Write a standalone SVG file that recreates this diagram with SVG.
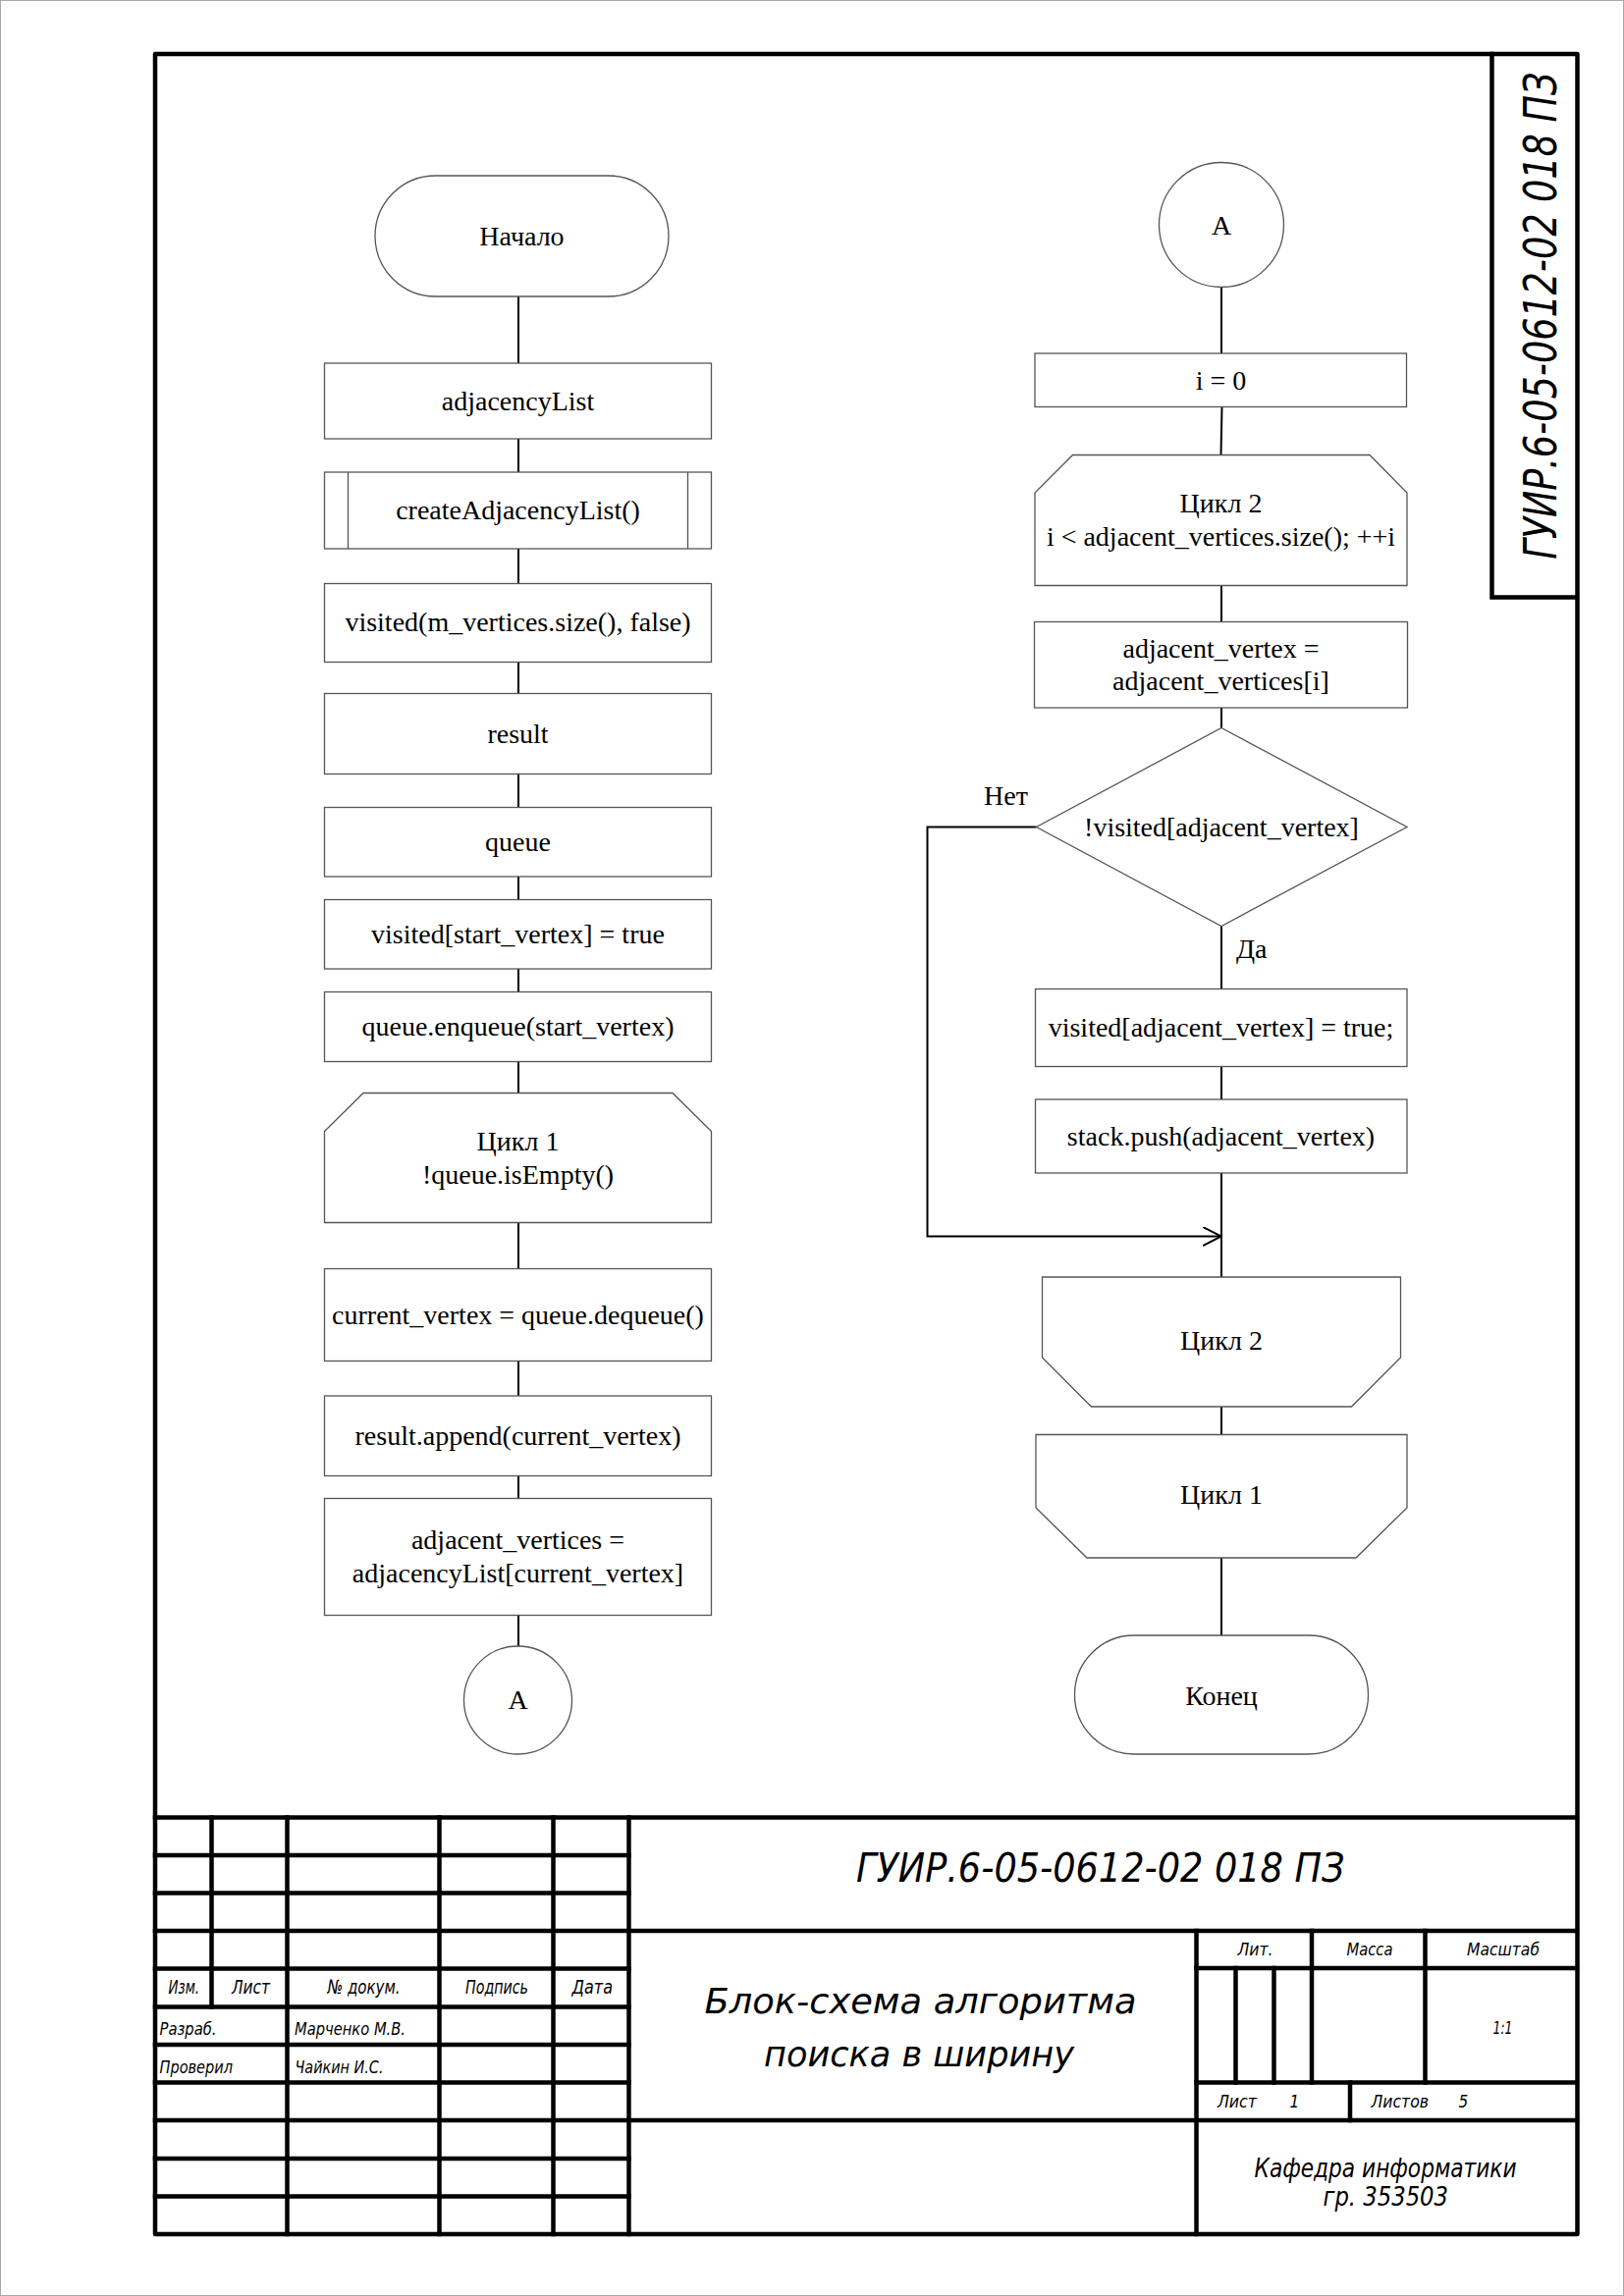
<svg xmlns="http://www.w3.org/2000/svg" width="1654" height="2339" viewBox="0 0 1654 2339">
  <style>
    .shape { fill: #ffffff; stroke: #555555; stroke-width: 1.3; }
    .conn { fill: none; stroke: #000000; stroke-width: 2; }
    .lbl { font-family: "Liberation Serif", "Times New Roman", serif; font-size: 28px; fill: #000000; text-anchor: middle; }
    .lbl-start { font-family: "Liberation Serif", "Times New Roman", serif; font-size: 28px; fill: #000000; }
    .frame { fill: none; stroke: #000000; stroke-width: 4.5; stroke-linejoin: round; }
    .grid { fill: none; stroke: #000000; stroke-width: 4.5; stroke-linecap: square; }
    .gost { font-family: "DejaVu Sans Condensed", "Liberation Sans Narrow", "DejaVu Sans", sans-serif; font-style: italic; font-stretch: condensed; font-weight: 300; fill: #000000; }
    .mid { text-anchor: middle; }
  </style>
  <defs>
    <marker id="open-arrow" viewBox="0 0 20 20" refX="19" refY="9.5" markerWidth="20" markerHeight="20" markerUnits="userSpaceOnUse" orient="auto">
      <path d="M0,0 L19,9.5 L0,19" fill="none" stroke="#000000" stroke-width="2"/>
    </marker>
  </defs>

  <!-- page edge -->
  <rect x="0.5" y="0.5" width="1653" height="2338" fill="#ffffff" stroke="#a8a8a8" stroke-width="1"/>

  <!-- drawing frame -->
  <rect class="frame" x="158" y="55" width="1448.5" height="2221"/>

  <!-- connectors -->
  <g id="connectors">
    <!-- left column -->
    <line class="conn" x1="528" y1="302" x2="528" y2="370"/>
    <line class="conn" x1="528" y1="447" x2="528" y2="481"/>
    <line class="conn" x1="528" y1="559" x2="528" y2="594.5"/>
    <line class="conn" x1="528" y1="674.5" x2="528" y2="706.5"/>
    <line class="conn" x1="528" y1="788.5" x2="528" y2="822.5"/>
    <line class="conn" x1="528" y1="893" x2="528" y2="916.5"/>
    <line class="conn" x1="528" y1="987" x2="528" y2="1010.5"/>
    <line class="conn" x1="528" y1="1081.5" x2="528" y2="1113.5"/>
    <line class="conn" x1="528" y1="1245.5" x2="528" y2="1292.5"/>
    <line class="conn" x1="528" y1="1386.5" x2="528" y2="1422"/>
    <line class="conn" x1="528" y1="1503.5" x2="528" y2="1526.5"/>
    <line class="conn" x1="528" y1="1645.5" x2="528" y2="1677"/>
    <!-- right column -->
    <line class="conn" x1="1244" y1="292.5" x2="1244" y2="360"/>
    <line class="conn" x1="1244.5" y1="414.5" x2="1243.5" y2="463.5"/>
    <line class="conn" x1="1244" y1="596.5" x2="1244" y2="633.5"/>
    <line class="conn" x1="1244" y1="721" x2="1244" y2="741.5"/>
    <line class="conn" x1="1244" y1="943.5" x2="1244" y2="1007.5"/>
    <line class="conn" x1="1244" y1="1086.5" x2="1244" y2="1120"/>
    <line class="conn" x1="1244" y1="1195" x2="1244" y2="1301"/>
    <line class="conn" x1="1244" y1="1433" x2="1244" y2="1461.5"/>
    <line class="conn" x1="1244" y1="1587" x2="1244" y2="1666"/>
    <!-- "no" branch bypassing the body of loop 2 -->
    <polyline class="conn" points="1055.5,842.5 944.5,842.5 944.5,1259.5 1244,1259.5" marker-end="url(#open-arrow)"/>
    <text class="lbl-start" x="1002" y="819.5">Нет</text>
    <text class="lbl-start" x="1259" y="976">Да</text>
  </g>

  <!-- left column nodes -->
  <g id="start">
    <rect class="shape" x="382" y="179" width="299" height="123" rx="61.5" ry="61.5"/>
    <text class="lbl" x="531.5" y="249.5">Начало</text>
  </g>
  <g id="adjacency-list">
    <rect class="shape" x="330.5" y="370" width="394" height="77"/>
    <text class="lbl" x="527.5" y="417.5">adjacencyList</text>
  </g>
  <g id="create-adjacency-list">
    <rect class="shape" x="330.5" y="481" width="394" height="78"/>
    <line class="shape" x1="354.5" y1="481" x2="354.5" y2="559"/>
    <line class="shape" x1="700.5" y1="481" x2="700.5" y2="559"/>
    <text class="lbl" x="527.5" y="529">createAdjacencyList()</text>
  </g>
  <g id="visited-init">
    <rect class="shape" x="330.5" y="594.5" width="394" height="80"/>
    <text class="lbl" x="527.5" y="643">visited(m_vertices.size(), false)</text>
  </g>
  <g id="result">
    <rect class="shape" x="330.5" y="706.5" width="394" height="82"/>
    <text class="lbl" x="527.5" y="756.5">result</text>
  </g>
  <g id="queue">
    <rect class="shape" x="330.5" y="822.5" width="394" height="70.5"/>
    <text class="lbl" x="527.5" y="867">queue</text>
  </g>
  <g id="visited-start">
    <rect class="shape" x="330.5" y="916.5" width="394" height="70.5"/>
    <text class="lbl" x="527.5" y="961">visited[start_vertex] = true</text>
  </g>
  <g id="enqueue-start">
    <rect class="shape" x="330.5" y="1010.5" width="394" height="71"/>
    <text class="lbl" x="527.5" y="1055">queue.enqueue(start_vertex)</text>
  </g>
  <g id="loop1-begin">
    <polygon class="shape" points="370,1113.5 685,1113.5 724.5,1152.5 724.5,1245.5 330.5,1245.5 330.5,1152.5"/>
    <text class="lbl" x="527.5" y="1172">Цикл 1</text>
    <text class="lbl" x="527.5" y="1205.5">!queue.isEmpty()</text>
  </g>
  <g id="dequeue">
    <rect class="shape" x="330.5" y="1292.5" width="394" height="94"/>
    <text class="lbl" x="527.5" y="1348.5">current_vertex = queue.dequeue()</text>
  </g>
  <g id="append">
    <rect class="shape" x="330.5" y="1422" width="394" height="81.5"/>
    <text class="lbl" x="527.5" y="1472">result.append(current_vertex)</text>
  </g>
  <g id="adjacent-vertices">
    <rect class="shape" x="330.5" y="1526.5" width="394" height="119"/>
    <text class="lbl" x="527.5" y="1578">adjacent_vertices =</text>
    <text class="lbl" x="527.5" y="1611.5">adjacencyList[current_vertex]</text>
  </g>
  <g id="connector-a-out">
    <circle class="shape" cx="527.5" cy="1732" r="55"/>
    <text class="lbl" x="527.5" y="1741">A</text>
  </g>

  <!-- right column nodes -->
  <g id="connector-a-in">
    <circle class="shape" cx="1244" cy="229" r="63.5"/>
    <text class="lbl" x="1244" y="238.5">A</text>
  </g>
  <g id="i-init">
    <rect class="shape" x="1054" y="360" width="378.5" height="54.5"/>
    <text class="lbl" x="1243.5" y="396.5">i = 0</text>
  </g>
  <g id="loop2-begin">
    <polygon class="shape" points="1092.5,463.5 1395,463.5 1433,502 1433,596.5 1054,596.5 1054,502"/>
    <text class="lbl" x="1243.5" y="522">Цикл 2</text>
    <text class="lbl" x="1243.5" y="555.5">i &lt; adjacent_vertices.size(); ++i</text>
  </g>
  <g id="adjacent-vertex">
    <rect class="shape" x="1053.5" y="633.5" width="380" height="87.5"/>
    <text class="lbl" x="1243.5" y="669.5">adjacent_vertex =</text>
    <text class="lbl" x="1243.5" y="703">adjacent_vertices[i]</text>
  </g>
  <g id="visited-check">
    <polygon class="shape" points="1244,741.5 1433,842.5 1244,943.5 1055.5,842.5"/>
    <text class="lbl" x="1244" y="851.5">!visited[adjacent_vertex]</text>
  </g>
  <g id="mark-visited">
    <rect class="shape" x="1054.5" y="1007.5" width="378.5" height="79"/>
    <text class="lbl" x="1243.5" y="1056">visited[adjacent_vertex] = true;</text>
  </g>
  <g id="stack-push">
    <rect class="shape" x="1054.5" y="1120" width="378.5" height="75"/>
    <text class="lbl" x="1243.5" y="1166.5">stack.push(adjacent_vertex)</text>
  </g>
  <g id="loop2-end">
    <polygon class="shape" points="1061.5,1301 1426.5,1301 1426.5,1383 1376.5,1433 1111.5,1433 1061.5,1383"/>
    <text class="lbl" x="1244" y="1375">Цикл 2</text>
  </g>
  <g id="loop1-end">
    <polygon class="shape" points="1055,1461.5 1433,1461.5 1433,1536 1381,1587 1107,1587 1055,1536"/>
    <text class="lbl" x="1244" y="1532">Цикл 1</text>
  </g>
  <g id="end">
    <rect class="shape" x="1094.5" y="1666" width="299" height="121" rx="60.5" ry="60.5"/>
    <text class="lbl" x="1244" y="1736.5">Конец</text>
  </g>

  <!-- side designation box -->
  <g id="side-stamp">
    <polyline class="grid" points="1519.5,55 1519.5,608.5 1606,608.5"/>
    <text class="gost mid" transform="translate(1585,321.7) rotate(-90)" font-size="47" textLength="496" lengthAdjust="spacingAndGlyphs">ГУИР.6-05-0612-02 018 ПЗ</text>
  </g>

  <!-- title block -->
  <g id="title-block">
    <g class="grid">
      <!-- full-width top line -->
      <line x1="158" y1="1851.5" x2="1606" y2="1851.5"/>
      <!-- left part rows -->
      <line x1="158" y1="1890" x2="640.5" y2="1890"/>
      <line x1="158" y1="1928.5" x2="640.5" y2="1928.5"/>
      <line x1="158" y1="1967" x2="1606" y2="1967"/>
      <line x1="158" y1="2005.5" x2="640.5" y2="2005.5"/>
      <line x1="158" y1="2044.5" x2="640.5" y2="2044.5"/>
      <line x1="158" y1="2083" x2="640.5" y2="2083"/>
      <line x1="158" y1="2121.5" x2="640.5" y2="2121.5"/>
      <line x1="158" y1="2160" x2="1606" y2="2160"/>
      <line x1="158" y1="2199" x2="640.5" y2="2199"/>
      <line x1="158" y1="2237.5" x2="640.5" y2="2237.5"/>
      <!-- left part columns -->
      <line x1="215.5" y1="1851.5" x2="215.5" y2="2044.5"/>
      <line x1="292.5" y1="1851.5" x2="292.5" y2="2276"/>
      <line x1="447.5" y1="1851.5" x2="447.5" y2="2276"/>
      <line x1="563.5" y1="1851.5" x2="563.5" y2="2276"/>
      <line x1="640.5" y1="1851.5" x2="640.5" y2="2276"/>
      <!-- right part -->
      <line x1="1218.5" y1="1967" x2="1218.5" y2="2276"/>
      <line x1="1218.5" y1="2005" x2="1606" y2="2005"/>
      <line x1="1218.5" y1="2121.5" x2="1606" y2="2121.5"/>
      <line x1="1336" y1="1967" x2="1336" y2="2121.5"/>
      <line x1="1451.5" y1="1967" x2="1451.5" y2="2121.5"/>
      <line x1="1258.5" y1="2005" x2="1258.5" y2="2121.5"/>
      <line x1="1297.5" y1="2005" x2="1297.5" y2="2121.5"/>
      <line x1="1375" y1="2121.5" x2="1375" y2="2160"/>
    </g>

    <!-- column headings -->
    <text class="gost" x="171.5" y="2030.5" font-size="20" textLength="31.5" lengthAdjust="spacingAndGlyphs">Изм.</text>
    <text class="gost" x="236" y="2030.5" font-size="20" textLength="39" lengthAdjust="spacingAndGlyphs">Лист</text>
    <text class="gost" x="333.5" y="2030.5" font-size="20" textLength="74" lengthAdjust="spacingAndGlyphs">№ докум.</text>
    <text class="gost" x="474" y="2030.5" font-size="20" textLength="64" lengthAdjust="spacingAndGlyphs">Подпись</text>
    <text class="gost" x="582.5" y="2030.5" font-size="20" textLength="41.5" lengthAdjust="spacingAndGlyphs">Дата</text>

    <!-- signatures -->
    <text class="gost" x="162.5" y="2072.5" font-size="18.5" textLength="58" lengthAdjust="spacingAndGlyphs">Разраб.</text>
    <text class="gost" x="300" y="2072.5" font-size="18.5" textLength="113" lengthAdjust="spacingAndGlyphs">Марченко  М.В.</text>
    <text class="gost" x="162.5" y="2111.5" font-size="18.5" textLength="74.5" lengthAdjust="spacingAndGlyphs">Проверил</text>
    <text class="gost" x="300.5" y="2111.5" font-size="18.5" textLength="90" lengthAdjust="spacingAndGlyphs">Чайкин  И.С.</text>

    <!-- designation and title -->
    <text class="gost" x="872" y="1916.5" font-size="40" textLength="497.5" lengthAdjust="spacingAndGlyphs">ГУИР.6-05-0612-02 018 ПЗ</text>
    <text class="gost" x="717.5" y="2051" font-size="36" textLength="440" lengthAdjust="spacingAndGlyphs">Блок-схема алгоритма</text>
    <text class="gost" x="778" y="2105" font-size="36" textLength="316" lengthAdjust="spacingAndGlyphs">поиска в ширину</text>

    <!-- letter / mass / scale -->
    <text class="gost" x="1260.5" y="1991.5" font-size="17" textLength="36" lengthAdjust="spacingAndGlyphs">Лит.</text>
    <text class="gost" x="1371.5" y="1991.5" font-size="17" textLength="47" lengthAdjust="spacingAndGlyphs">Масса</text>
    <text class="gost" x="1494" y="1991.5" font-size="17" textLength="74" lengthAdjust="spacingAndGlyphs">Масштаб</text>
    <text class="gost" x="1520.5" y="2071.5" font-size="17" textLength="20" lengthAdjust="spacingAndGlyphs">1:1</text>

    <!-- sheet numbers -->
    <text class="gost" x="1240" y="2146.5" font-size="17" textLength="40" lengthAdjust="spacingAndGlyphs">Лист</text>
    <text class="gost" x="1313.5" y="2146.5" font-size="17">1</text>
    <text class="gost" x="1396.5" y="2146.5" font-size="17" textLength="58.5" lengthAdjust="spacingAndGlyphs">Листов</text>
    <text class="gost" x="1485.5" y="2146.5" font-size="17">5</text>

    <!-- organisation -->
    <text class="gost" x="1277.5" y="2217.5" font-size="26" textLength="267" lengthAdjust="spacingAndGlyphs">Кафедра информатики</text>
    <text class="gost" x="1347.5" y="2247" font-size="26" textLength="127.5" lengthAdjust="spacingAndGlyphs">гр. 353503</text>
  </g>
</svg>
